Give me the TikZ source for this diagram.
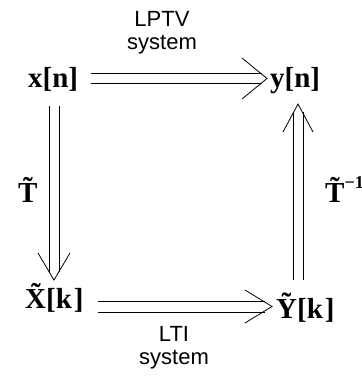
\documentclass[tikz,border=0pt]{standalone}
\usepackage{fontspec}
\setmainfont{Liberation Serif}
\newfontfamily\labfont{Liberation Sans}
\usetikzlibrary{calc}
\begin{document}
\begin{tikzpicture}[x=1pt,y=-1pt,
  sig/.style={inner sep=0pt, font=\fontsize{29}{29}\selectfont\bfseries},
  lab/.style={inner sep=0pt, align=center, font=\fontsize{22}{23}\selectfont\labfont},
  line/.style={line width=0.8pt, line cap=butt},
  chev/.style={line width=0.8pt, line join=miter}]
\useasboundingbox (0,0) rectangle (361,377);
\fill[white] (0,0) rectangle (361,377);
% nodes
\node[sig, anchor=base west] (xn) at (28,88) {x[n]};
\node[sig, anchor=base west] (yn) at (270,88) {y[n]};
\node[sig, anchor=base west] (Xk) at (25,308) {\~X[k\kern2pt]};
\node[sig, anchor=base west] (Yk) at (276,318) {\~Y[k\kern2pt]};
\node[sig, anchor=base west] (T) at (18,202) {\~T};
\node[sig, anchor=base west] (Ti) at (325,202) {\~T\raisebox{14pt}{\fontsize{18}{18}\selectfont −1}};
\node[lab, anchor=north] (lptv) at (162,11) {LPTV\\system};
\node[lab, anchor=north] (lti) at (174,326) {LTI\\system};
% top: x[n] => y[n]
\draw[line] ($(xn.base east)+(13,-14.5)$) -- ($(yn.base west)+(-8,-14.5)$);
\draw[line] ($(xn.base east)+(13,-4.5)$) -- ($(yn.base west)+(-8,-4.5)$);
\draw[chev] ($(yn.base west)+(-28,-30)$) -- ($(yn.base west)+(-3,-9.5)$) -- ($(yn.base west)+(-28,11)$);
% bottom: X[k] => Y[k]
\draw[line] ($(Xk.base east)+(14,-7)$) -- ($(Yk.base west)+(-11,-17)$);
\draw[line] ($(Xk.base east)+(14,4)$) -- ($(Yk.base west)+(-11,-6)$);
\draw[chev] ($(Yk.base west)+(-31,-28)$) -- ($(Yk.base west)+(-4,-11.5)$) -- ($(Yk.base west)+(-31,5)$);
% left: x[n] => X[k]
\draw[line] ($(xn.base west)+(21,18)$) -- ($(Xk.base west)+(24,-36)$);
\draw[line] ($(xn.base west)+(31,18)$) -- ($(Xk.base west)+(34,-36)$);
\draw[chev] ($(Xk.base west)+(13,-55)$) -- ($(Xk.base west)+(29,-28)$) -- ($(Xk.base west)+(45,-55)$);
% right: Y[k] => y[n]
\draw[line] ($(Yk.base west)+(17,-38)$) -- ($(yn.base west)+(23,24)$);
\draw[line] ($(Yk.base west)+(27,-38)$) -- ($(yn.base west)+(33,24)$);
\draw[chev] ($(yn.base west)+(13,44)$) -- ($(yn.base west)+(28,16)$) -- ($(yn.base west)+(43,44)$);
\end{tikzpicture}
\end{document}
